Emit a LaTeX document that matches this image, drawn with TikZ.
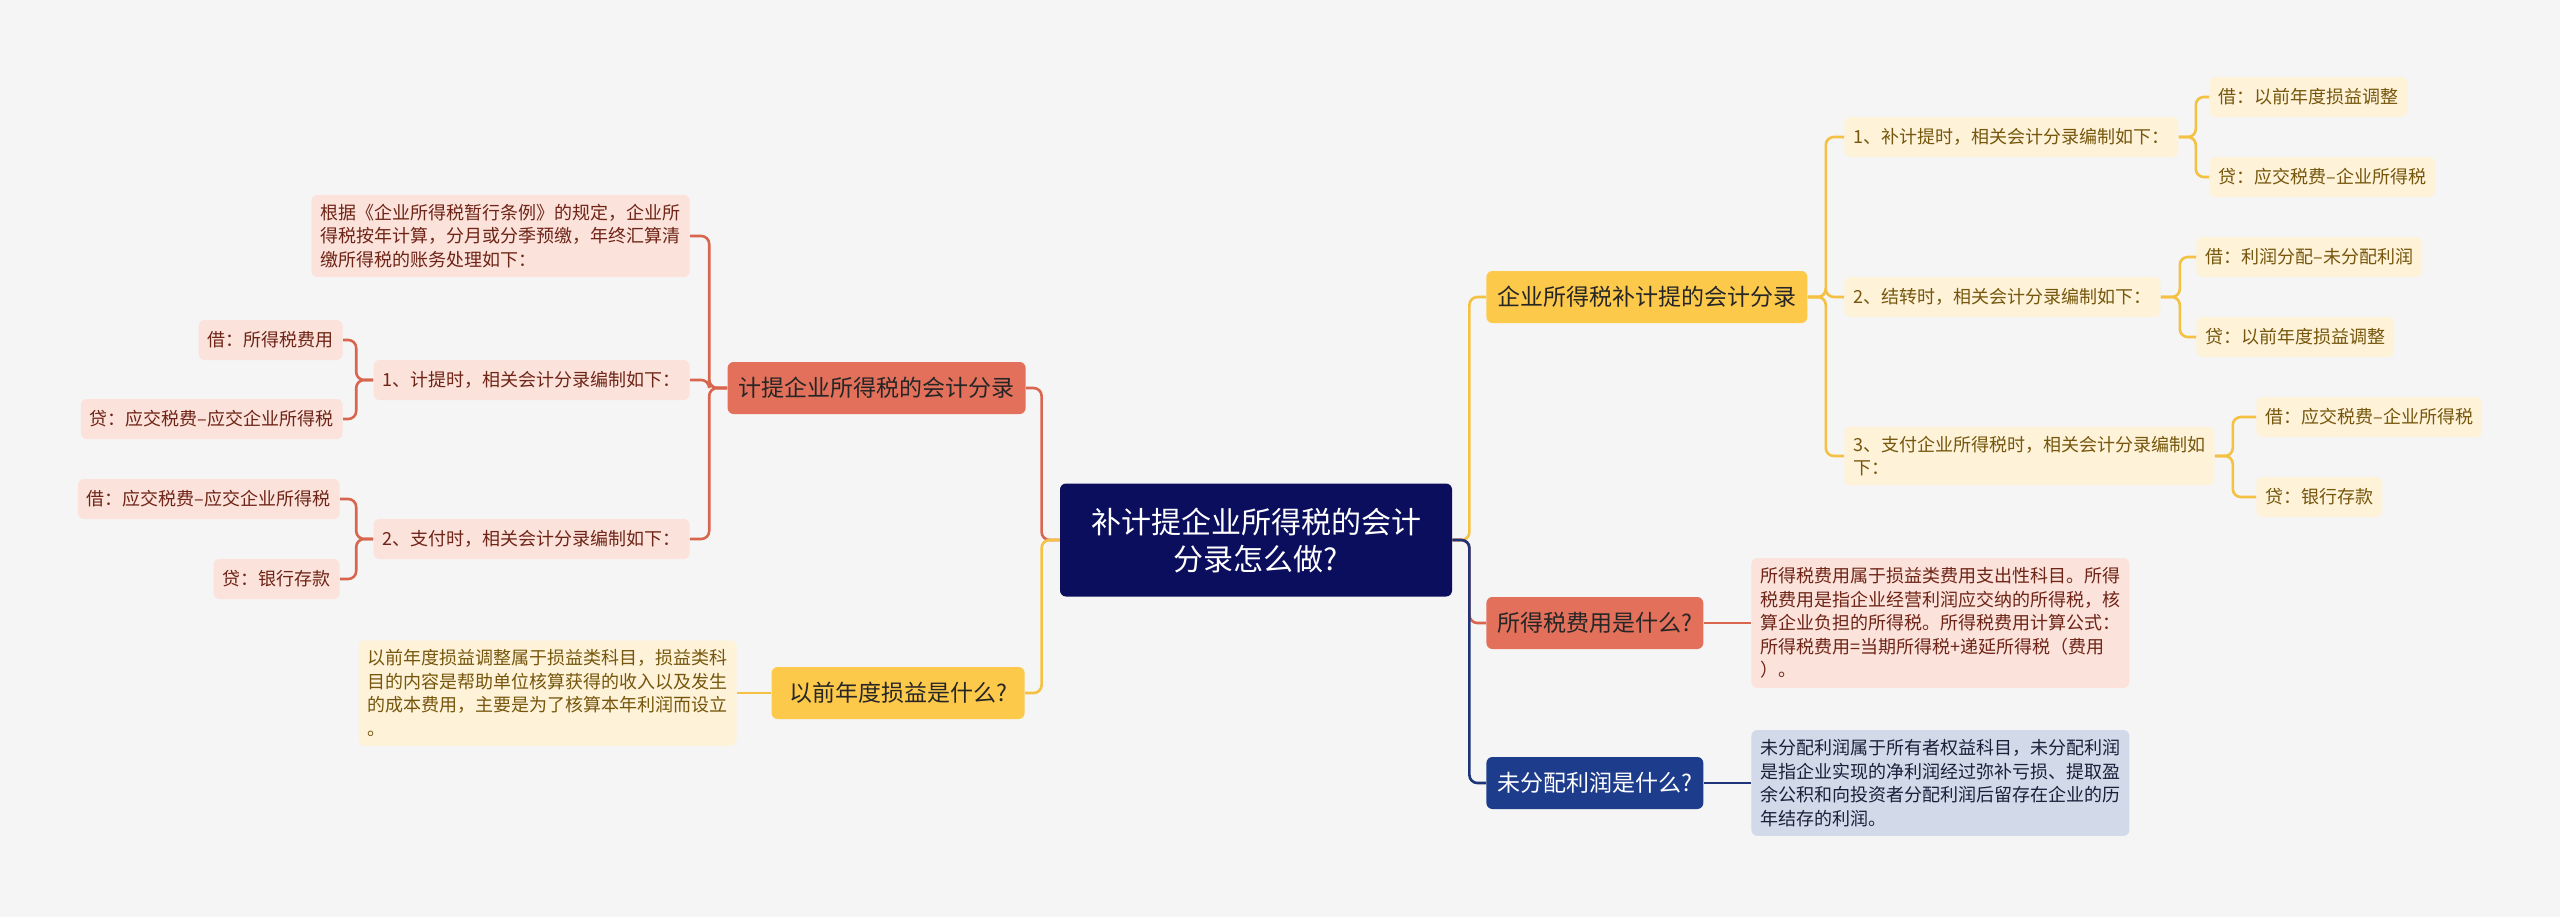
\documentclass[tikz,border=0pt]{standalone}
\usepackage{fontspec}
\setmainfont{Noto Sans CJK SC}

\definecolor{bgcol}{HTML}{F5F5F5}
\definecolor{rootcol}{HTML}{0B0E5C}
\definecolor{redtop}{HTML}{E2705A}
\definecolor{redline}{HTML}{D8664F}
\definecolor{redleaf}{HTML}{FBE2DB}
\definecolor{redtext}{HTML}{6E2416}
\definecolor{yeltop}{HTML}{FDC94B}
\definecolor{yelline}{HTML}{F4C143}
\definecolor{yelleaf}{HTML}{FEF2D8}
\definecolor{yeltext}{HTML}{75560C}
\definecolor{navytop}{HTML}{1E3C8C}
\definecolor{navyline}{HTML}{1D3478}
\definecolor{navyleaf}{HTML}{D2D9E8}
\definecolor{navytext}{HTML}{1A1F3A}

\begin{document}
\begin{tikzpicture}[x=0.5pt, y=-0.5pt]
\tikzstyle{rootbox} = [rounded corners=3pt, fill=rootcol, text=white, align=center,
  font=\fontsize{15}{18.5}\selectfont, minimum width=196pt, minimum height=56.5pt]
\tikzstyle{topic} = [rounded corners=3pt, font=\fontsize{11.5}{14}\selectfont,
  minimum height=26pt, inner xsep=5.5pt]
\tikzstyle{leaf} = [rounded corners=3pt, font=\fontsize{9}{11.8}\selectfont,
  minimum height=20pt, inner xsep=4.5pt, inner ysep=4.6pt, align=left]
\tikzstyle{link} = [line width=1.3pt, rounded corners=4pt]

\fill[bgcol] (0,0) rectangle (2560,917);

\node (ROOT) [rootbox] at (1256,540) {补计提企业所得税的会计\\分录怎么做?};

% left side
\node (L) [topic, fill=redtop, text=black!85, anchor=east] at (1026,388) {计提企业所得税的会计分录};
\node (LN) [leaf, fill=redleaf, text=redtext, anchor=east] at (690,236)
  {根据《企业所得税暂行条例》的规定，企业所\\得税按年计算，分月或分季预缴，年终汇算清\\缴所得税的账务处理如下：};
\node (L1) [leaf, fill=redleaf, text=redtext, anchor=east] at (690,380) {1、计提时，相关会计分录编制如下：};
\node (L1A) [leaf, fill=redleaf, text=redtext, anchor=east] at (343,340) {借：所得税费用};
\node (L1B) [leaf, fill=redleaf, text=redtext, anchor=east] at (343,419) {贷：应交税费–应交企业所得税};
\node (L2) [leaf, fill=redleaf, text=redtext, anchor=east] at (690,539) {2、支付时，相关会计分录编制如下：};
\node (L2A) [leaf, fill=redleaf, text=redtext, anchor=east] at (340,499) {借：应交税费–应交企业所得税};
\node (L2B) [leaf, fill=redleaf, text=redtext, anchor=east] at (340,579) {贷：银行存款};

\node (Y) [topic, fill=yeltop, text=black!85, anchor=east, minimum width=126.5pt] at (1025,693) {以前年度损益是什么?};
\node (YN) [leaf, fill=yelleaf, text=yeltext, anchor=east] at (737,693)
  {以前年度损益调整属于损益类科目，损益类科\\目的内容是帮助单位核算获得的收入以及发生\\的成本费用，主要是为了核算本年利润而设立\\。};

% right side
\node (R) [topic, fill=yeltop, text=black!85, anchor=west] at (1486,297) {企业所得税补计提的会计分录};
\node (R1) [leaf, fill=yelleaf, text=yeltext, anchor=west] at (1844,137) {1、补计提时，相关会计分录编制如下：};
\node (R1A) [leaf, fill=yelleaf, text=yeltext, anchor=west] at (2209,97) {借：以前年度损益调整};
\node (R1B) [leaf, fill=yelleaf, text=yeltext, anchor=west] at (2209,177) {贷：应交税费–企业所得税};
\node (R2) [leaf, fill=yelleaf, text=yeltext, anchor=west] at (1844,297) {2、结转时，相关会计分录编制如下：};
\node (R2A) [leaf, fill=yelleaf, text=yeltext, anchor=west] at (2196,257) {借：利润分配–未分配利润};
\node (R2B) [leaf, fill=yelleaf, text=yeltext, anchor=west] at (2196,337) {贷：以前年度损益调整};
\node (R3) [leaf, fill=yelleaf, text=yeltext, anchor=west] at (1844,456) {3、支付企业所得税时，相关会计分录编制如\\下：};
\node (R3A) [leaf, fill=yelleaf, text=yeltext, anchor=west] at (2256,417) {借：应交税费–企业所得税};
\node (R3B) [leaf, fill=yelleaf, text=yeltext, anchor=west] at (2256,497) {贷：银行存款};

\node (F) [topic, fill=redtop, text=black!85, anchor=west] at (1486,623) {所得税费用是什么?};
\node (FN) [leaf, fill=redleaf, text=redtext, anchor=west] at (1751,623)
  {所得税费用属于损益类费用支出性科目。所得\\税费用是指企业经营利润应交纳的所得税，核\\算企业负担的所得税。所得税费用计算公式：\\所得税费用=当期所得税+递延所得税（费用\\）。};
\node (U) [topic, fill=navytop, text=white, anchor=west] at (1486,783) {未分配利润是什么?};
\node (UN) [leaf, fill=navyleaf, text=navytext, anchor=west] at (1751,783)
  {未分配利润属于所有者权益科目，未分配利润\\是指企业实现的净利润经过弥补亏损、提取盈\\余公积和向投资者分配利润后留存在企业的历\\年结存的利润。};

% connectors
\draw [link, redline] (ROOT.west) -- ++(-18,0) |- (L.east);
\draw [link, yelline] (ROOT.west) -- ++(-18,0) |- (Y.east);
\draw [link, yelline] (Y.west) -- (YN.east);
\draw [link, redline] (L.west) -- ++(-18,0) |- (LN.east);
\draw [link, redline] (L.west) -- ++(-18,0) |- (L1.east);
\draw [link, redline] (L.west) -- ++(-18,0) |- (L2.east);
\draw [link, redline] (L1.west) -- ++(-17,0) |- (L1A.east);
\draw [link, redline] (L1.west) -- ++(-17,0) |- (L1B.east);
\draw [link, redline] (L2.west) -- ++(-17,0) |- (L2A.east);
\draw [link, redline] (L2.west) -- ++(-17,0) |- (L2B.east);

\draw [link, yelline] (ROOT.east) -- ++(17,0) |- (R.west);
\draw [link, redline] (ROOT.east) -- ++(17,0) |- (F.west);
\draw [link, navyline] (ROOT.east) -- ++(17,0) |- (U.west);
\draw [link, redline] (F.east) -- (FN.west);
\draw [link, navyline] (U.east) -- (UN.west);
\draw [link, yelline] (R.east) -- ++(18,0) |- (R1.west);
\draw [link, yelline] (R.east) -- ++(18,0) |- (R2.west);
\draw [link, yelline] (R.east) -- ++(18,0) |- (R3.west);
\draw [link, yelline] (R1.east) -- ++(17,0) |- (R1A.west);
\draw [link, yelline] (R1.east) -- ++(17,0) |- (R1B.west);
\draw [link, yelline] (R2.east) -- ++(19,0) |- (R2A.west);
\draw [link, yelline] (R2.east) -- ++(19,0) |- (R2B.west);
\draw [link, yelline] (R3.east) -- ++(18,0) |- (R3A.west);
\draw [link, yelline] (R3.east) -- ++(18,0) |- (R3B.west);
\end{tikzpicture}
\end{document}
